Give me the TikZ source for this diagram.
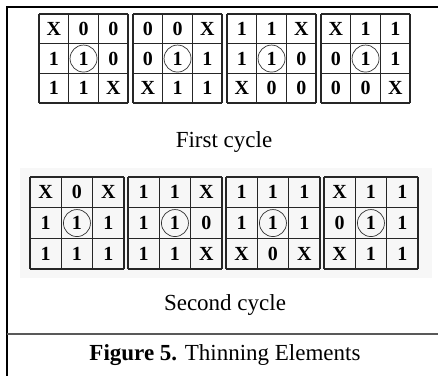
\documentclass[tikz,border=0pt]{standalone}
\usepackage{fontspec}
\setmainfont{Liberation Serif}

\tikzset{
  gridline/.style={line width=1.3pt, black!85},
  cellnum/.style={font=\fontsize{20}{20}\selectfont\bfseries, inner sep=0pt},
  centremark/.style={circle, draw, line width=0.7pt, black!80, minimum size=27pt, inner sep=0pt},
  caption/.style={font=\fontsize{23}{23}\selectfont, anchor=base, inner sep=0pt}
}

% one 3x3 mask: name, corner, cell width, cell height, entries
\newcommand{\thinmask}[5]{%
  \begin{scope}[shift={(#2)}, xscale=#3, yscale=#4]
    \foreach \i in {0,...,3} {
      \draw[gridline] (\i,0) -- (\i,3);
      \draw[gridline] (0,\i) -- (3,\i);
    }
    \foreach \v [count=\k from 0] in {#5} {
      \pgfmathtruncatemacro{\mcol}{mod(\k,3)}
      \pgfmathtruncatemacro{\mrow}{div(\k,3)}
      \node[cellnum] (#1-\k) at (\mcol+.5,\mrow+.5) {\v};
    }
    \node[centremark] (#1-c) at (1.5,1.5) {};
  \end{scope}}

\begin{document}
\begin{tikzpicture}[x=1pt, y=-1pt]
  \useasboundingbox (0,0) rectangle (438,376);
  \fill[white] (0,0) rectangle (438,376);
  \fill[black!3] (20,168) rectangle (432,278);

  % frame
  \draw[line width=1.4pt] (438,7) -- (7,7) -- (7,376);
  \draw[line width=1.4pt, black!65] (7,334) -- (438,334);

  % first cycle
  \thinmask{fa}{39,14}{29.7}{29.7}{X,0,0,1,1,0,1,1,X}
  \thinmask{fb}{133,14}{29.7}{29.7}{0,0,X,0,1,1,X,1,1}
  \thinmask{fc}{227,14}{29.7}{29.7}{1,1,X,1,1,0,X,0,0}
  \thinmask{fd}{321,14}{29.7}{29.7}{X,1,1,0,1,1,0,0,X}
  \node[caption] (first) at (224,147) {First cycle};

  % second cycle
  \thinmask{sa}{30,177}{31.3}{30.7}{X,0,X,1,1,1,1,1,1}
  \thinmask{sb}{128,177}{31.3}{30.7}{1,1,X,1,1,0,1,1,X}
  \thinmask{sc}{226,177}{31.3}{30.7}{1,1,1,1,1,1,X,0,X}
  \thinmask{sd}{324,177}{31.3}{30.7}{X,1,1,0,1,1,X,1,1}
  \node[caption] (second) at (225,310) {Second cycle};

  \node[caption] (figcap) at (225,360) {\textbf{Figure 5.} Thinning Elements};
\end{tikzpicture}
\end{document}
